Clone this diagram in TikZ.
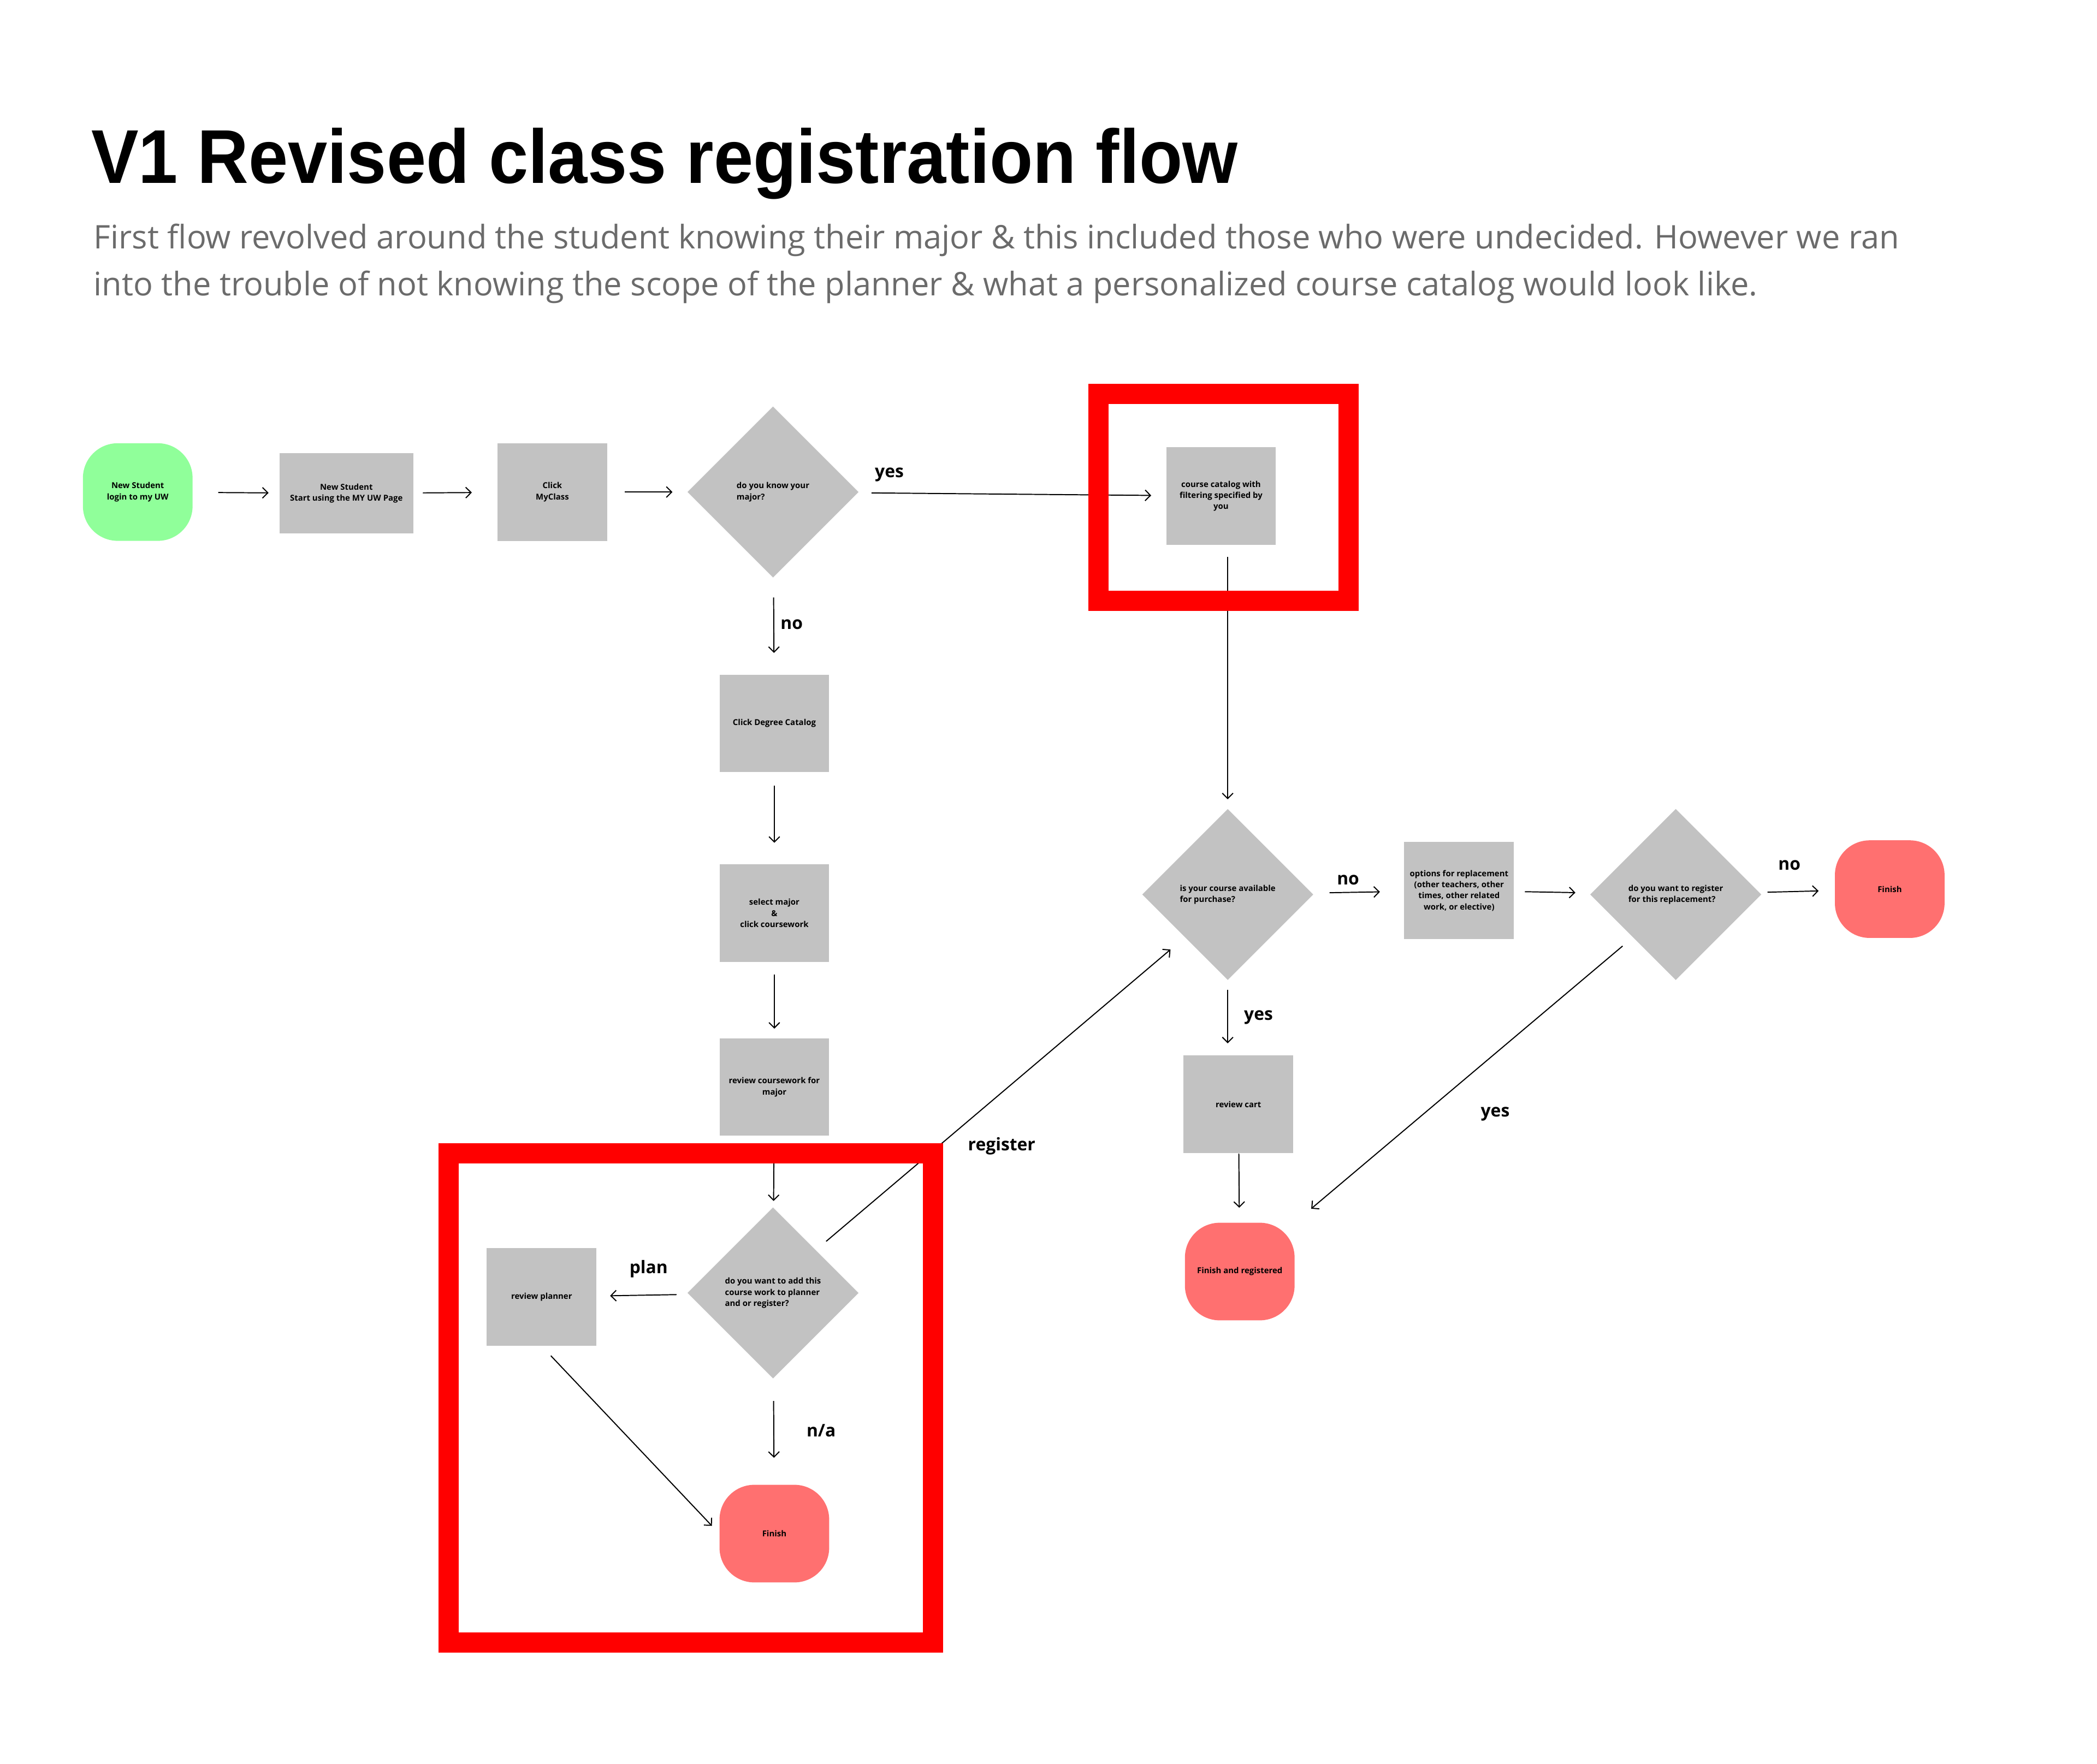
\documentclass[tikz,border=0pt]{standalone}
\usepackage{fontspec}
\setmainfont{Open Sans}
\newfontfamily\headfont{Liberation Sans}
\usetikzlibrary{shapes.geometric,arrows.meta}
\definecolor{boxgray}{RGB}{194,194,194}
\definecolor{startgreen}{RGB}{144,255,154}
\definecolor{endred}{RGB}{255,112,112}
\definecolor{subgray}{RGB}{107,107,107}
\tikzset{
 heading/.style={anchor=base west,inner sep=0pt,font=\headfont\fontsize{57}{60}\selectfont\bfseries},
 subline/.style={anchor=base west,inner sep=0pt,text=subgray,font=\fontsize{24.3}{27}\selectfont},
 stepbox/.style={fill=boxgray,minimum width=82pt,minimum height=73pt,inner sep=1pt,align=center,font=\fontsize{6.1}{8.3}\selectfont\bfseries},
 decision/.style={diamond,fill=boxgray,minimum width=128pt,minimum height=128pt,inner sep=0pt,align=left,font=\fontsize{6.1}{8.3}\selectfont\bfseries},
 startnode/.style={stepbox,fill=startgreen,rounded corners=26pt},
 endnode/.style={stepbox,fill=endred,rounded corners=26pt},
 tag/.style={inner sep=0pt,font=\fontsize{13}{15}\selectfont\bfseries},
 flow/.style={-{Straight Barb[length=4pt,width=8pt]},line width=0.8pt},
 frame/.style={draw=red,line width=15pt}
}
\begin{document}
\begin{tikzpicture}[x=1pt,y=-1pt]
\useasboundingbox (0,0) rectangle (1568,1319);
\node[heading] (head) at (68,137) {\scalebox{0.93}[1]{V1 Revised class registration flow}};
\node[subline] (sub1) at (70,186) {First flow revolved around the student knowing their major \& this included those who were undecided. However we ran};
\node[subline] (sub2) at (70,221) {into the trouble of not knowing the scope of the planner \& what a personalized course catalog would look like.};

\node[startnode] (login) at (103,368) {New Student\\login to my UW};
\node[stepbox,minimum width=100pt,minimum height=60pt] (page) at (259,369) {New Student\\Start using the MY UW Page};
\node[stepbox] (myclass) at (413,368) {Click\\MyClass};
\node[decision] (know) at (578,368) {do you know your\\major?};
\node[stepbox] (catalog) at (913,371) {course catalog with\\filtering specified by\\you};
\node[stepbox] (degree) at (579,541) {Click Degree Catalog};
\node[stepbox] (select) at (579,683) {select major\\\&\\click coursework};
\node[stepbox] (review) at (579,813) {review coursework for\\major};
\node[decision] (add) at (578,967) {do you want to add this\\course work to planner\\and or register?};
\node[stepbox] (planner) at (405,970) {review planner};
\node[endnode] (finishA) at (579,1147) {Finish};
\node[decision] (avail) at (918,669) {is your course available\\for purchase?};
\node[stepbox] (options) at (1091,666) {options for replacement\\(other teachers, other\\times, other related\\work, or elective)};
\node[decision] (replace) at (1253,669) {do you want to register\\for this replacement?};
\node[endnode] (finishB) at (1413,665) {Finish};
\node[stepbox] (cart) at (926,826) {review cart};
\node[endnode] (finishC) at (927,951) {Finish and registered};

\node[tag] (yesA) at (665,355) {yes};
\node[tag] (noA) at (592,467) {no};
\node[tag] (planA) at (485,949) {plan};
\node[tag] (naA) at (614,1070) {n/a};
\node[tag] (regA) at (749,857) {register};
\node[tag] (noB) at (1008,658) {no};
\node[tag] (noC) at (1338,647) {no};
\node[tag] (yesB) at (941,761) {yes};
\node[tag] (yesC) at (1118,833) {yes};

\draw[flow,shorten <=19pt,shorten >=8pt] (login) -- (page);
\draw[flow,shorten <=7pt,shorten >=19pt] (page) -- (myclass);
\draw[flow,shorten <=13pt,shorten >=11pt] (myclass) -- (know);
\draw[flow,shorten <=10pt,shorten >=11pt] (know) -- (catalog);
\draw[flow,shorten <=15pt,shorten >=16pt] (know) -- (degree);
\draw[flow,shorten <=10pt,shorten >=16pt] (degree) -- (select);
\draw[flow,shorten <=9pt,shorten >=7pt] (select) -- (review);
\draw[flow,shorten <=20pt,shorten >=5pt] (review) -- (add);
\draw[flow,shorten <=9pt,shorten >=10pt] (add) -- (planner);
\draw[flow,shorten <=17pt,shorten >=20pt] (add) -- (finishA);
\draw[flow,shorten <=10pt,shorten >=8pt] (planner.south) -- (finishA.west);
\draw[flow,shorten <=10pt,shorten >=14pt] (add.north east) -- (avail.south west);
\draw[flow,shorten <=9pt,shorten >=7pt] (avail.north |- catalog.south) -- (avail);
\draw[flow,shorten <=7pt,shorten >=9pt] (avail) -- (avail |- cart.north);
\draw[flow,shorten >=11pt] (cart) -- (finishC);
\draw[flow,shorten <=13pt,shorten >=18pt] (avail) -- (options);
\draw[flow,shorten <=8pt,shorten >=12pt] (options) -- (replace);
\draw[flow,shorten <=6pt,shorten >=12pt] (replace) -- (finishB);
\draw[flow,shorten <=10pt,shorten >=16pt] (replace.south west) -- (finishC.north east);

\draw[frame] (821.5,294.5) rectangle (1008.5,449.5);
\draw[frame] (335.5,862.5) rectangle (697.5,1228.5);
\end{tikzpicture}
\end{document}
